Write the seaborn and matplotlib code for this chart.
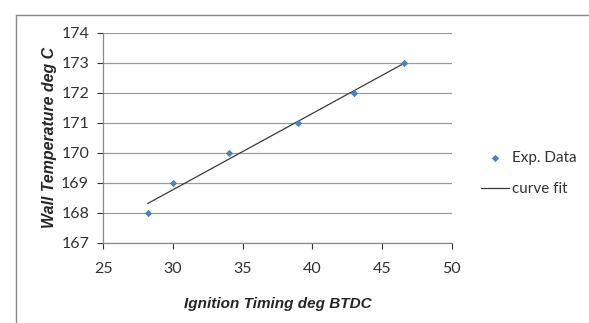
import numpy as np
import pandas as pd
import matplotlib
matplotlib.use("Agg")
import matplotlib.pyplot as plt
from matplotlib.lines import Line2D
import seaborn as sns

# Measured wall temperature vs ignition timing
ignition_timing = [28.2, 30.0, 34.0, 39.0, 43.0, 46.6]
wall_temp = [168, 169, 170, 171, 172, 173]
x_ticks = [25, 30, 35, 40, 45, 50]
y_ticks = [167, 168, 169, 170, 171, 172, 173, 174]

df = pd.DataFrame({"timing": ignition_timing, "temp": wall_temp})

# Linear least-squares fit over the measured range
slope, intercept = np.polyfit(df["timing"], df["temp"], 1)
fit_x = np.array([df["timing"].min(), df["timing"].max()])
fit_df = pd.DataFrame({"timing": fit_x, "temp": slope * fit_x + intercept})

sns.set_theme(style="white")
plt.rcParams["font.family"] = ["Lato", "DejaVu Sans"]

fig = plt.figure(figsize=(5.89, 3.23), dpi=100)
ax = fig.add_axes([0.175, 0.248, 0.592, 0.650])

ax.yaxis.grid(True, color="#9c9c9c", linewidth=0.9)
ax.set_axisbelow(True)

sns.scatterplot(data=df, x="timing", y="temp", marker="D", s=14,
                color="#4F81BD", edgecolor="#4F81BD", linewidth=0,
                ax=ax, label="Exp. Data", zorder=3)
sns.lineplot(data=fit_df, x="timing", y="temp", color="#3a3a3a",
             linewidth=0.9, ax=ax, label="curve fit", zorder=2)

ax.set_xlim(25, 50)
ax.set_ylim(167, 174)
ax.set_xticks(x_ticks)
ax.set_yticks(y_ticks)
ax.tick_params(axis="both", which="major", labelsize=11.5, colors="#333333",
               length=4, width=0.8, direction="out", pad=6)
ax.tick_params(axis="x", pad=10)
ax.tick_params(bottom=True, left=True)

for side in ("top", "right"):
    ax.spines[side].set_visible(False)
for side in ("left", "bottom"):
    ax.spines[side].set_color("#8a8a8a")
    ax.spines[side].set_linewidth(0.9)

ax.set_xlabel("Ignition Timing deg BTDC", fontsize=11, fontweight="bold",
              fontstyle="italic", family="Liberation Sans", labelpad=15)
ax.set_ylabel("Wall Temperature deg C", fontsize=11.4, fontweight="bold",
              fontstyle="italic", family="Liberation Sans", labelpad=3)

leg = ax.legend(loc="center left", bbox_to_anchor=(1.045, 0.33), frameon=False,
                fontsize=11, handlelength=1.85, handletextpad=0.15,
                labelspacing=1.1)
for t in leg.get_texts():
    t.set_color("#333333")

# Chart area border
fig.add_artist(Line2D([0.027, 1.0], [0.955, 0.955], color="#8a8a8a",
                      linewidth=1.0, transform=fig.transFigure))
fig.add_artist(Line2D([0.027, 0.027], [0.0, 0.955], color="#8a8a8a",
                      linewidth=1.0, transform=fig.transFigure))

fig.savefig("out.png", dpi=100)
